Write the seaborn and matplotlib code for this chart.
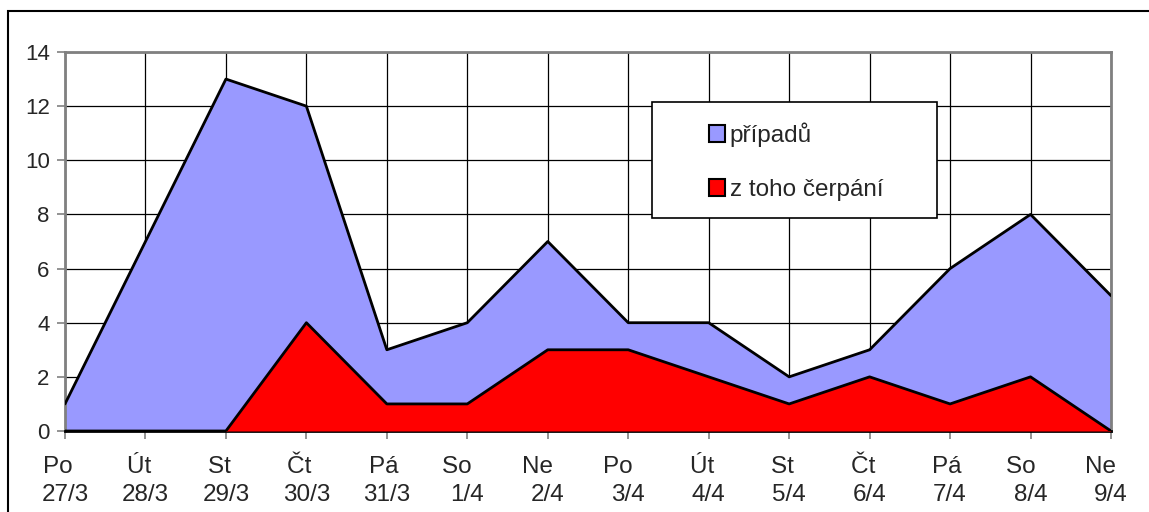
import matplotlib
matplotlib.use("Agg")
import matplotlib.pyplot as plt
import seaborn as sns
import pandas as pd
from matplotlib.patches import Patch, Rectangle

days = ["Po", "Út", "St", "Čt", "Pá", "So", "Ne", "Po", "Út", "St", "Čt", "Pá", "So", "Ne"]
dates = ["27/3", "28/3", "29/3", "30/3", "31/3", "1/4", "2/4", "3/4", "4/4", "5/4", "6/4", "7/4", "8/4", "9/4"]
pripadu = [1, 7, 13, 12, 3, 4, 7, 4, 4, 2, 3, 6, 8, 5]
cerpani = [0, 0, 0, 4, 1, 1, 3, 3, 2, 1, 2, 1, 2, 0]
# trailing spaces after day name in the original labels (Excel centering quirk)
day_pad = [2, 2, 2, 2, 1, 3, 3, 3, 2, 2, 2, 1, 3, 3]

sns.set_style("white")
plt.rcParams["font.family"] = ["Liberation Sans", "DejaVu Sans"]

FS_Y = 16
FS_X = 17.5

df = pd.DataFrame({"i": range(len(days)), "případů": pripadu, "z toho čerpání": cerpani})

fig = plt.figure(figsize=(11.49, 5.12), dpi=100)
ax = fig.add_axes([65/1149, 1-431/512, (1111-65)/1149, (431-52)/512])

blue = "#9999FF"
red = "#FF0000"
ax.fill_between(df["i"], df["případů"], 0, color=blue, zorder=2, linewidth=0)
sns.lineplot(data=df, x="i", y="případů", color="black", linewidth=2, ax=ax, zorder=3)
ax.fill_between(df["i"], df["z toho čerpání"], 0, color=red, zorder=4, linewidth=0)
sns.lineplot(data=df, x="i", y="z toho čerpání", color="black", linewidth=2, ax=ax, zorder=5)

ax.set_xlim(0, len(days)-1)
ax.set_ylim(0, 14)
ax.set_yticks(range(0, 15, 2))
ax.set_xticks(range(len(days)))
ax.set_xticklabels([d + " " * p + "\n" + t for d, p, t in zip(days, day_pad, dates)],
                   fontsize=FS_X, linespacing=1.35)
ax.tick_params(axis="y", labelsize=FS_Y, length=6, width=1.2, color="#808080", direction="out", left=True, pad=5)
ax.tick_params(axis="x", length=6, width=1.2, color="#808080", direction="out", bottom=True, pad=12)
ax.set_xlabel("")
ax.set_ylabel("")
ax.grid(True, color="black", linewidth=0.9, zorder=1)
ax.set_axisbelow(True)
for s in ax.spines.values():
    s.set_color("#808080")
    s.set_linewidth(2)
ax.spines["bottom"].set_color("black")

# legend box
ax.add_patch(Rectangle((0.561, 0.562), 0.273, 0.306, transform=ax.transAxes,
                       facecolor="white", edgecolor="black", linewidth=1.2, zorder=10))
handles = [Patch(facecolor=blue, edgecolor="black", linewidth=1.5, label="případů"),
           Patch(facecolor=red, edgecolor="black", linewidth=1.5, label="z toho čerpání")]
leg = ax.legend(handles=handles, loc="upper left", bbox_to_anchor=(0.597, 0.865), frameon=False,
                fontsize=FS_X, handlelength=0.68, handleheight=0.68, handletextpad=0.18,
                labelspacing=1.3, borderpad=0.3)
leg.set_zorder(11)

fig.patches.append(Rectangle((8/1149, -0.05), 1.1, 1-11/512+0.05, transform=fig.transFigure,
                             facecolor="none", edgecolor="black", linewidth=1.5))

fig.savefig("out.png", dpi=100)
